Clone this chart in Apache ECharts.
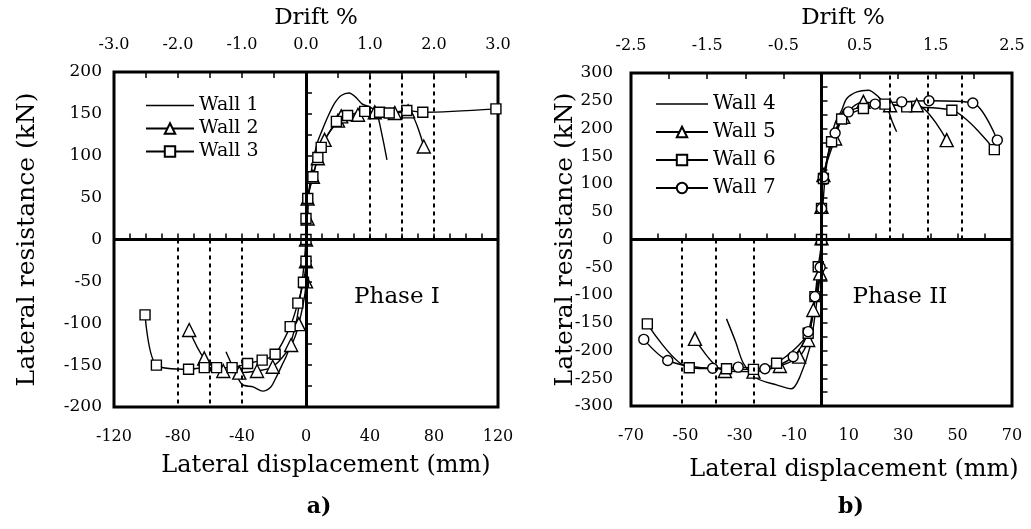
<!DOCTYPE html>
<html>
<head>
<meta charset="utf-8">
<script src="https://cdn.jsdelivr.net/npm/echarts@6/dist/echarts.min.js"></script>
<style>
  html, body { margin: 0; padding: 0; background: #fff; }
  #chart { width: 1031px; height: 529px; }
</style>
</head>
<body>
<div id="chart"></div>
<script>
// Phase I walls: [lateral displacement (mm), lateral resistance (kN)]
var wall1 = [[-50, -134], [-45, -155], [-40, -173], [-33, -176], [-27, -181], [-22, -176], [-19, -166], [-15, -150], [-12, -138], [-9, -120], [-6, -98], [-3, -60], [-1, -25], [0, 0], [1, 30], [2, 60], [4, 90], [7, 115], [10, 130], [14, 148], [18, 163], [22, 172], [27, 175], [31, 170], [35, 162], [40, 158], [44, 152], [47.5, 125], [50.6, 95]];
var wall2 = [[-73, -108], [-63.6, -142], [-51.7, -157], [-41.7, -159], [-30.6, -157], [-20.8, -152], [-9.3, -126], [-4.5, -101], [0, -50], [0, -26], [0, 0], [1, 25], [1, 49], [4.3, 75], [7.4, 97], [11.6, 119], [20, 142], [22, 147], [32.5, 149], [43, 152], [55.5, 151], [63.8, 153], [73.6, 111]];
var wall3 = [[-100.6, -90], [-93.5, -150], [-73.4, -155], [-63.6, -153], [-55.9, -153], [-46.2, -153], [-36.5, -148], [-27.4, -144], [-19.3, -137], [-9.9, -104], [-5.1, -76], [-1.6, -51], [0, -26], [0, 0], [0, 25], [1.1, 49], [4.3, 75], [7.4, 98], [9.5, 110], [19, 141], [26, 148], [36.7, 153], [46, 152], [52, 151], [63, 154], [73, 152], [118.7, 156]];
// Phase II walls
var wall4 = [[-34.9, -143], [-31.5, -185], [-28.7, -223], [-23.8, -250], [-16.5, -262], [-11, -269], [-7.9, -247], [-4.2, -193], [-2.5, -140], [-0.5, -61], [0, 0], [0.5, 60], [1.5, 120], [3, 170], [5, 210], [7.4, 233], [9.3, 254], [13, 266], [17.2, 269], [20.9, 257], [24, 239], [25.8, 215], [27.6, 194]];
var wall5 = [[-46.5, -179], [-35.5, -237], [-25, -238], [-15.3, -228], [-8.2, -211], [-4.9, -181], [-3, -127], [-0.5, -61], [0, 2], [0, 59], [0.7, 116], [5, 182], [8, 221], [15.4, 248], [25.2, 242], [35, 242], [46, 179]];
var wall6 = [[-64, -152], [-48.6, -231], [-34.9, -233], [-25, -234], [-16.5, -223], [-4.9, -169], [-2.4, -103], [-1.2, -49], [0, 0], [0, 56], [0.7, 110], [3.7, 176], [7.4, 217], [15.4, 236], [23.3, 244], [31.3, 239], [47.9, 233], [63.5, 162]];
var wall7 = [[-65.3, -180], [-56.5, -218], [-40, -232], [-30.6, -230], [-20.8, -233], [-10.4, -211], [-4.9, -166], [-2.4, -103], [-0.5, -50], [0, 56], [0.7, 113], [5, 192], [9.9, 230], [19.7, 244], [29.5, 248], [39.5, 250], [55.6, 246], [64.6, 179]];
// dotted drift reference lines (mm)
var dottedLeft = [40, 60, 80];
var dottedRight = [25, 39, 51.5];

var font = 'DejaVu Serif';
var lineIcon = 'path://M0,0 L48,0 L48,1.4 L0,1.4 Z';
var Chart = echarts.init(document.getElementById('chart'));

function refLines(list, yMax, yMin) {
    var d = [];
    // solid zero line
    d.push([{ coord: [0, yMin], lineStyle: { type: 'solid', width: 3 } }, { coord: [0, yMax] }]);
    list.forEach(function (v) {
        d.push([{ coord: [v, 0] }, { coord: [v, yMax] }]);
        d.push([{ coord: [-v, 0] }, { coord: [-v, yMin] }]);
    });
    return d;
}

function wallSeries(name, data, symbol, size, idx) {
    return {
        name: name,
        type: 'line',
        xAxisIndex: idx,
        yAxisIndex: idx,
        data: data,
        smooth: 0.3,
        symbol: symbol,
        symbolSize: size,
        showSymbol: symbol !== 'none',
        lineStyle: { color: '#000', width: 1.4 },
        itemStyle: { color: '#fff', borderColor: '#000', borderWidth: 1.4 },
        z: 3
    };
}

function helper(idx, list, yMax, yMin) {
    return {
        type: 'line',
        xAxisIndex: idx,
        yAxisIndex: idx,
        data: [],
        silent: true,
        markLine: {
            silent: true,
            symbol: 'none',
            label: { show: false },
            lineStyle: { color: '#000', type: [4, 4], width: 2 },
            data: refLines(list, yMax, yMin)
        },
        z: 2
    };
}

function hLine(idx, xMin, xMax) {
    return {
        type: 'line',
        xAxisIndex: idx,
        yAxisIndex: idx,
        data: [],
        silent: true,
        markLine: {
            silent: true,
            symbol: 'none',
            label: { show: false },
            lineStyle: { color: '#000', type: 'solid', width: 3 },
            data: [[{ coord: [xMin, 0] }, { coord: [xMax, 0] }]]
        },
        z: 2
    };
}

function bottomAxis(grid, min, max, step) {
    return {
        type: 'value', gridIndex: grid, position: 'bottom',
        min: min, max: max, interval: 10,
        axisLine: { show: false },
        axisTick: { inside: true, length: 6, lineStyle: { color: '#000', width: 1.5 } },
        splitLine: { show: false },
        axisLabel: {
            margin: 22, fontFamily: font, fontSize: 16, color: '#000',
            formatter: function (v) { return (Math.round(v - min) % step === 0) ? String(v) : ''; }
        }
    };
}

function topAxis(grid, min, max) {
    return {
        type: 'value', gridIndex: grid, position: 'top',
        min: min, max: max, interval: 0.5,
        axisLine: { show: false },
        axisTick: { inside: true, length: 6, lineStyle: { color: '#000', width: 1.5 } },
        splitLine: { show: false },
        axisLabel: {
            margin: 19, fontFamily: font, fontSize: 16, color: '#000',
            formatter: function (v) {
                var k = Math.round((v - min) * 10);
                return (k % 10 === 0) ? v.toFixed(1) : '';
            }
        }
    };
}

function leftAxis(grid, lim, margin, gap) {
    return {
        type: 'value', gridIndex: grid,
        min: -lim, max: lim, interval: 25,
        axisLine: { show: false },
        axisTick: { inside: true, length: 6, lineStyle: { color: '#000', width: 1.5 } },
        splitLine: { show: false },
        axisLabel: {
            margin: margin, fontFamily: font, fontSize: 17, color: '#000',
            formatter: function (v) { return (Math.round(v) % 50 === 0) ? String(v) : ''; }
        },
        name: 'Lateral resistance (kN)', nameLocation: 'middle', nameGap: gap,
        nameMoveOverlap: false,
        nameTextStyle: { fontFamily: font, fontSize: 25, color: '#000' }
    };
}

function label(text, x, y, size, weight) {
    return {
        type: 'text', x: x, y: y,
        style: { text: text, fontFamily: font, fontSize: size, fontWeight: weight || 'normal', fill: '#000', align: 'center', verticalAlign: 'middle' }
    };
}

Chart.setOption({
    animation: false,
    backgroundColor: '#fff',
    grid: [
        { left: 114, right: 533, top: 72, bottom: 122, show: true, borderColor: '#000', borderWidth: 3, containLabel: false },
        { left: 631, right: 19, top: 73, bottom: 123, show: true, borderColor: '#000', borderWidth: 3, containLabel: false }
    ],
    xAxis: [
        bottomAxis(0, -120, 120, 40),
        bottomAxis(1, -70, 70, 20),
        topAxis(0, -3, 3),
        topAxis(1, -2.5, 2.5)
    ],
    yAxis: [
        leftAxis(0, 200, 12, 74),
        leftAxis(1, 300, 18, 53)
    ],
    legend: [{
        data: [{ name: 'Wall 1', icon: lineIcon, itemStyle: { color: '#000', borderWidth: 0 } }, 'Wall 2', 'Wall 3'],
        orient: 'vertical', left: 140, top: 91,
        itemWidth: 48, itemHeight: 13, itemGap: 4,
        textStyle: { fontFamily: font, fontSize: 19, color: '#000' }
    }, {
        data: [{ name: 'Wall 4', icon: lineIcon, itemStyle: { color: '#000', borderWidth: 0 } }, 'Wall 5', 'Wall 6', 'Wall 7'],
        orient: 'vertical', left: 650, top: 89,
        itemWidth: 52, itemHeight: 13, itemGap: 8,
        textStyle: { fontFamily: font, fontSize: 20, color: '#000' }
    }],
    graphic: [
        label('Drift %', 316, 18, 23),
        label('Drift %', 843, 18, 23),
        label('Lateral displacement (mm)', 326, 466, 24),
        label('Lateral displacement (mm)', 854, 470, 24),
        label('Phase I', 397, 297, 23),
        label('Phase II', 900, 297, 23),
        label('a)', 319, 507, 22, 'bold'),
        label('b)', 851, 507, 22, 'bold')
    ],
    series: [
        helper(0, dottedLeft, 200, -200),
        hLine(0, -120, 120),
        helper(1, dottedRight, 300, -300),
        hLine(1, -70, 70),
        wallSeries('Wall 1', wall1, 'none', 0, 0),
        wallSeries('Wall 2', wall2, 'triangle', 13, 0),
        wallSeries('Wall 3', wall3, 'rect', 10, 0),
        wallSeries('Wall 4', wall4, 'none', 0, 1),
        wallSeries('Wall 5', wall5, 'triangle', 13, 1),
        wallSeries('Wall 6', wall6, 'rect', 10, 1),
        wallSeries('Wall 7', wall7, 'circle', 10, 1)
    ]
});
</script>
</body>
</html>
